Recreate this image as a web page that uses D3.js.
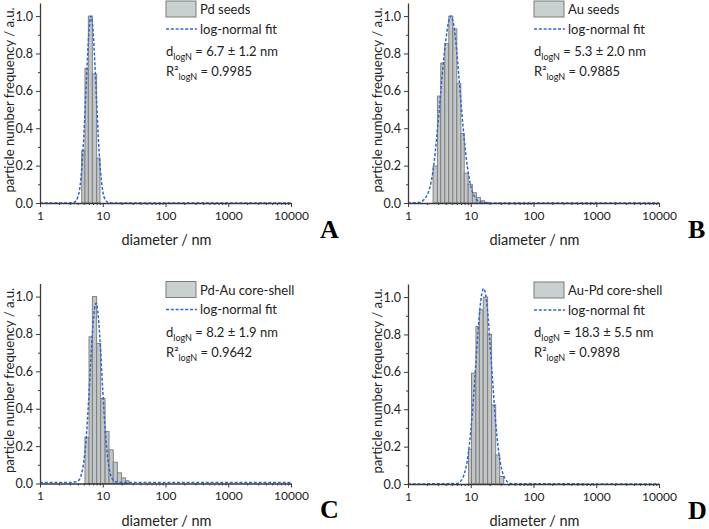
<!DOCTYPE html>
<html><head><meta charset="utf-8">
<script src="https://cdn.jsdelivr.net/npm/d3@7/dist/d3.min.js"></script>
<style>body{margin:0;background:#fff} svg{display:block}</style>
</head><body><svg id="c" width="709" height="529"></svg>
<script>
// ---- data ----
const xTicks = [1, 10, 100, 1000, 10000];
const xTickLabels = ["1", "10", "100", "1000", "10000"];
const yTicks = [0, 0.2, 0.4, 0.6, 0.8, 1.0];
const yTickLabels = ["0.0", "0.2", "0.4", "0.6", "0.8", "1.0"];

const seriesNames = ["Pd seeds", "Au seeds", "Pd-Au core-shell", "Au-Pd core-shell"];
const panelLetters = ["A", "B", "C", "D"];
const dMean = ["6.7", "5.3", "8.2", "18.3"];
const dStd = ["1.2", "2.0", "1.9", "5.5"];
const r2 = ["0.9985", "0.9885", "0.9642", "0.9898"];

// histogram bin edges (nm) and normalised frequencies
const edgesA = [4.62, 5.21, 5.89, 6.82, 8.0, 9.04];
const barsA = [0.28, 0.72, 1.0, 0.69, 0.24];
const edgesB = [2.51, 2.94, 3.33, 3.86, 4.47, 5.18, 6.0, 6.96, 7.87, 9.1, 10.6, 12.3, 14.3, 16.6, 19.2];
const barsB = [0.198, 0.572, 0.749, 0.852, 1.0, 0.932, 0.638, 0.371, 0.16, 0.10, 0.055, 0.03, 0.012, 0.004];
const edgesC = [5.21, 6.04, 6.83, 8.0, 9.27, 10.9, 12.6, 14.7, 17.1, 20.0, 23.2, 26.2];
const barsC = [0.247, 0.785, 1.0, 0.749, 0.455, 0.279, 0.18, 0.114, 0.057, 0.03, 0.015];
const edgesD = [9.2, 10.3, 12.1, 13.7, 15.8, 18.6, 21.5, 25.0, 28.9, 33.5];
const barsD = [0.186, 0.593, 0.843, 0.932, 1.0, 0.80, 0.423, 0.155, 0.04];

// log-normal fit curves
const fitXA = [1, 3, 3.5, 4, 4.5, 5, 5.5, 6, 6.5, 7, 7.5, 8, 9, 10, 11, 12.5, 15, 10000];
const fitYA = [0, 0, 0.004, 0.031, 0.135, 0.36, 0.66, 0.908, 1.0, 0.925, 0.741, 0.531, 0.212, 0.065, 0.017, 0.002, 0, 0];
const fitXB = [1, 1.5, 2, 2.5, 3, 3.5, 4, 4.8, 5.5, 6.5, 7.5, 8.5, 10, 12, 15, 20, 10000];
const fitYB = [0, 0.003, 0.04, 0.17, 0.42, 0.68, 0.87, 1.0, 0.926, 0.669, 0.416, 0.237, 0.092, 0.024, 0.003, 0, 0];
const fitXC = [1, 3, 4, 4.5, 5, 5.5, 6, 6.5, 7, 7.8, 8.5, 9, 10, 11, 12, 13, 14, 16, 20, 10000];
const fitYC = [0.005, 0.005, 0.013, 0.042, 0.119, 0.261, 0.462, 0.677, 0.851, 0.965, 0.893, 0.776, 0.498, 0.275, 0.135, 0.062, 0.029, 0.009, 0.005, 0.005];
const fitXD = [1, 6, 7, 8, 9, 10, 11, 12, 13, 14, 15, 16, 17, 18.5, 20, 22, 24, 26, 28, 31, 35, 40, 45, 10000];
const fitYD = [0, 0.003, 0.018, 0.061, 0.146, 0.282, 0.451, 0.636, 0.807, 0.937, 1.018, 1.045, 1.025, 0.927, 0.784, 0.581, 0.401, 0.263, 0.167, 0.081, 0.029, 0.008, 0.002, 0];

const allEdges = [edgesA, edgesB, edgesC, edgesD];
const allBars = [barsA, barsB, barsC, barsD];
const allFitX = [fitXA, fitXB, fitXC, fitXD];
const allFitY = [fitYA, fitYB, fitYC, fitYD];

// ---- layout ----
const origins = [[40, 203], [408, 203], [40, 483.5], [408, 484]];
const W = 251, H = 200;
const FONT = "Lato, 'Open Sans', sans-serif";
const axisColor = "#3a3a3a";

const svg = d3.select("#c");

const minorX = [];
for (let e = 0; e < 4; e++) for (let m = 2; m <= 9; m++) minorX.push(m * Math.pow(10, e));
const minorY = d3.range(0.1, 1.05, 0.2);

origins.forEach(([ox, oy], i) => {
  const top = oy - H;
  const g = svg.append("g").attr("transform", `translate(${ox},${top})`);
  const x = d3.scaleLog().domain([1, 10000]).range([0, W]);
  const y = d3.scaleLinear().domain([0, 1.07]).range([H, 0]);

  // bars
  const edges = allEdges[i], vals = allBars[i];
  const bars = vals.map((v, k) => ({ x0: edges[k], x1: edges[k + 1], v }));
  g.append("g").selectAll("rect").data(bars).join("rect")
    .attr("x", d => x(d.x0))
    .attr("width", d => x(d.x1) - x(d.x0))
    .attr("y", d => y(d.v))
    .attr("height", d => y(0) - y(d.v))
    .attr("fill", "#c2c6c6")
    .attr("stroke", "#7a7a7a")
    .attr("stroke-width", 0.9);

  // fit curve
  const pts = allFitX[i].map((xv, k) => [xv, allFitY[i][k]]);
  const line = d3.line().x(d => x(d[0])).y(d => y(d[1])).curve(d3.curveMonotoneX);
  g.append("path").datum(pts).attr("d", line)
    .attr("fill", "none").attr("stroke", "#3165d8")
    .attr("stroke-width", 1.5).attr("stroke-dasharray", "3,1.8");

  // x axis
  const xa = g.append("g").attr("transform", `translate(0,${H})`);
  xa.call(d3.axisBottom(x).tickValues(xTicks).tickFormat((d, k) => xTickLabels[k]).tickSize(4).tickSizeOuter(0).tickPadding(4));
  const xm = g.append("g").attr("transform", `translate(0,${H})`);
  xm.call(d3.axisBottom(x).tickValues(minorX).tickFormat("").tickSize(2).tickSizeOuter(0));
  xm.select(".domain").remove();

  // y axis
  const ya = g.append("g");
  ya.call(d3.axisLeft(y).tickValues(yTicks).tickFormat((d, k) => yTickLabels[k]).tickSize(4).tickSizeOuter(0).tickPadding(3));
  const ym = g.append("g");
  ym.call(d3.axisLeft(y).tickValues(minorY).tickFormat("").tickSize(2).tickSizeOuter(0));
  ym.select(".domain").remove();

  g.selectAll(".domain").attr("stroke", axisColor).attr("stroke-width", 1.3);
  g.selectAll(".tick line").attr("stroke", axisColor).attr("stroke-width", 1);
  xa.selectAll(".tick text").attr("font-family", FONT).attr("font-size", 12).attr("fill", "#222");
  ya.selectAll(".tick text").attr("font-family", FONT).attr("font-size", 12.5).attr("fill", "#222");

  // axis titles
  g.append("text").attr("x", W / 2 + 1).attr("y", H + 42).attr("text-anchor", "middle")
    .attr("font-family", FONT).attr("font-size", 14.5).attr("fill", "#222").text("diameter / nm");
  g.append("text").attr("transform", `translate(-26,${H / 2 - 3}) rotate(-90)`).attr("text-anchor", "middle")
    .attr("font-family", FONT).attr("font-size", 13.2).attr("fill", "#222").text("particle number frequency / a.u.");

  // legend
  g.append("rect").attr("x", 126).attr("y", -2).attr("width", 30).attr("height", 16)
    .attr("fill", "#c8d0d0").attr("stroke", "#7c7c7c").attr("stroke-width", 1);
  g.append("text").attr("x", 160).attr("y", 11).attr("font-family", FONT).attr("font-size", 13).attr("fill", "#222").text(seriesNames[i]);
  g.append("line").attr("x1", 126).attr("x2", 157).attr("y1", 26).attr("y2", 26)
    .attr("stroke", "#3165d8").attr("stroke-width", 1.5).attr("stroke-dasharray", "3,1.8");
  g.append("text").attr("x", 160).attr("y", 30.5).attr("font-family", FONT).attr("font-size", 13).attr("fill", "#222").text("log-normal fit");

  const t1 = g.append("text").attr("x", 126).attr("y", 53).attr("font-family", FONT).attr("font-size", 13).attr("fill", "#222");
  t1.append("tspan").text("d");
  t1.append("tspan").attr("dy", 4).attr("font-size", 9).text("logN");
  t1.append("tspan").attr("dy", -4).text(` = ${dMean[i]} \u00B1 ${dStd[i]} nm`);

  const t2 = g.append("text").attr("x", 126).attr("y", 73).attr("font-family", FONT).attr("font-size", 13).attr("fill", "#222");
  t2.append("tspan").text("R\u00B2");
  t2.append("tspan").attr("dy", 4).attr("font-size", 9).text("logN");
  t2.append("tspan").attr("dy", -4).text(` = ${r2[i]}`);

  // panel letter
  g.append("text").attr("x", 280).attr("y", H + 34.5)
    .attr("font-family", "'Liberation Serif', 'DejaVu Serif', serif").attr("font-weight", "bold")
    .attr("font-size", 26).attr("fill", "#000").text(panelLetters[i]);
});
</script>
</body></html>
